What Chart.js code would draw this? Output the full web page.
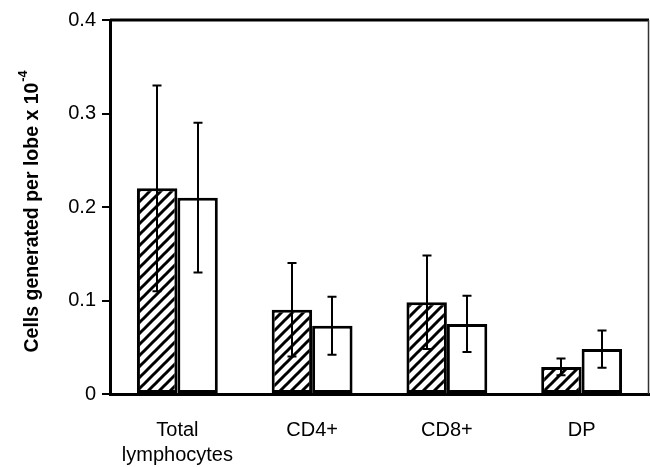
<!DOCTYPE html>
<html>
<head>
<meta charset="utf-8">
<script src="https://cdn.jsdelivr.net/npm/chart.js@4/dist/chart.umd.min.js"></script>
<style>
  html, body { margin: 0; padding: 0; background: #fff; }
  #wrap { width: 650px; height: 467px; }
</style>
</head>
<body>
<div id="wrap"><canvas id="c" width="650" height="467"></canvas></div>
<script>
const categories = [['Total', 'lymphocytes'], 'CD4+', 'CD8+', 'DP'];
const hatchedValues = [0.22, 0.09, 0.098, 0.029];
const hatchedErrors = [0.11, 0.05, 0.05, 0.009];
const whiteValues = [0.21, 0.073, 0.075, 0.048];
const whiteErrors = [0.08, 0.031, 0.03, 0.02];
const yTicks = [0, 0.1, 0.2, 0.3, 0.4];
const yTitleMain = 'Cells generated per lobe x 10';
const yTitleSup = '-4';

const FONT = '"Liberation Sans", Arial, Helvetica, sans-serif';

function makeHatch() {
  const s = 11;
  const p = document.createElement('canvas');
  p.width = s; p.height = s;
  const g = p.getContext('2d');
  g.fillStyle = '#fff';
  g.fillRect(0, 0, s, s);
  g.strokeStyle = '#000';
  g.lineWidth = 3;
  g.beginPath();
  g.moveTo(-2, s + 2); g.lineTo(s + 2, -2);
  g.moveTo(-s / 2 - 2, s / 2 + 2); g.lineTo(s / 2 + 2, -s / 2 - 2);
  g.moveTo(s / 2 - 2, s * 1.5 + 2); g.lineTo(s * 1.5 + 2, s / 2 - 2);
  g.stroke();
  return g.createPattern(p, 'repeat');
}

const ctx = document.getElementById('c').getContext('2d');
const hatch = makeHatch();
const errorSets = [hatchedErrors, whiteErrors];

const errorBars = {
  id: 'errorBars',
  afterDatasetsDraw(chart) {
    const c = chart.ctx;
    const ys = chart.scales.y;
    c.save();
    c.strokeStyle = '#000';
    c.lineWidth = 2;
    chart.data.datasets.forEach((ds, di) => {
      const meta = chart.getDatasetMeta(di);
      meta.data.forEach((bar, i) => {
        const v = ds.data[i], e = errorSets[di][i];
        const x = Math.round(bar.x);
        const yt = ys.getPixelForValue(v + e);
        const yb = ys.getPixelForValue(v - e);
        const cap = 4.5;
        c.beginPath();
        c.moveTo(x, yt); c.lineTo(x, yb);
        c.moveTo(x - cap, yt); c.lineTo(x + cap, yt);
        c.moveTo(x - cap, yb); c.lineTo(x + cap, yb);
        c.stroke();
      });
    });
    c.restore();
  }
};

const frame = {
  id: 'frame',
  afterDraw(chart) {
    const a = chart.chartArea;
    const c = chart.ctx;
    c.save();
    c.strokeStyle = '#000';
    c.lineWidth = 3;
    c.beginPath();
    c.moveTo(a.left, a.top); c.lineTo(a.right, a.top);
    c.stroke();
    c.strokeStyle = '#333';
    c.lineWidth = 1.5;
    c.beginPath();
    c.moveTo(a.right - 0.5, a.top); c.lineTo(a.right - 0.5, a.bottom);
    c.stroke();
    // y-axis title with superscript
    const cy = (a.top + a.bottom) / 2 + 5;
    const cx = 33;
    c.translate(cx, cy);
    c.rotate(-Math.PI / 2);
    c.fillStyle = '#000';
    c.textBaseline = 'middle';
    const mainFont = 'bold 19.5px ' + FONT;
    const supFont = 'bold 12.5px ' + FONT;
    c.font = mainFont;
    const w1 = c.measureText(yTitleMain).width;
    c.font = supFont;
    const w2 = c.measureText(yTitleSup).width;
    const start = -(w1 + w2) / 2;
    c.font = mainFont;
    c.textAlign = 'left';
    c.fillText(yTitleMain, start, 0);
    c.font = supFont;
    c.fillText(yTitleSup, start + w1 + 1, -9);
    c.restore();
  }
};

new Chart(ctx, {
  type: 'bar',
  data: {
    labels: categories,
    datasets: [
      {
        data: hatchedValues,
        backgroundColor: hatch,
        borderColor: '#000',
        borderWidth: 3,
        borderSkipped: false
      },
      {
        data: whiteValues,
        backgroundColor: '#fff',
        borderColor: '#000',
        borderWidth: 3,
        borderSkipped: false
      }
    ]
  },
  options: {
    responsive: false,
    animation: false,
    devicePixelRatio: 1,
    layout: { padding: { top: 20, right: 1, left: 0, bottom: 0 } },
    plugins: { legend: { display: false }, tooltip: { enabled: false } },
    datasets: { bar: { categoryPercentage: 0.6, barPercentage: 1.0 } },
    scales: {
      x: {
        grid: { display: false },
        border: { display: true, color: '#000', width: 3 },
        ticks: {
          color: '#000',
          font: { family: FONT, size: 20, lineHeight: 1.25 },
          padding: 16,
          maxRotation: 0,
          autoSkip: false
        },
        afterFit(scale) { scale.height = 73; }
      },
      y: {
        min: 0,
        max: 0.4,
        afterBuildTicks(scale) { scale.ticks = yTicks.map(v => ({ value: v })); },
        grid: {
          drawOnChartArea: false,
          drawTicks: true,
          tickLength: 8,
          color: '#000',
          lineWidth: 2
        },
        border: { display: true, color: '#000', width: 3 },
        ticks: {
          color: '#000',
          font: { family: FONT, size: 20 },
          padding: 6,
          callback: v => (v === 0 ? '0' : v.toFixed(1))
        },
        afterFit(scale) { scale.width = 110; }
      }
    }
  },
  plugins: [errorBars, frame]
});
</script>
</body>
</html>
